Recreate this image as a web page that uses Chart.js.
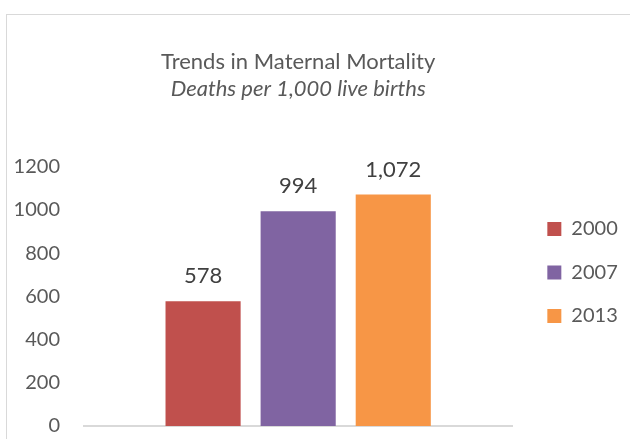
<!DOCTYPE html>
<html>
<head>
<meta charset="utf-8">
<script src="https://cdn.jsdelivr.net/npm/chart.js@4"></script>
<style>
  body { margin: 0; background: #fff; }
  #frame { position: absolute; left: 6px; top: 14px; width: 700px; height: 500px; border: 1px solid #d9d9d9; }
  #wrap { position: absolute; left: 0; top: 0; width: 630px; height: 439px; }
</style>
</head>
<body>
<div id="frame"></div>
<div id="wrap"><canvas id="chart"></canvas></div>
<script>
// values
const years = ["2000", "2007", "2013"];
const deaths = [578, 994, 1072];
const colors = ["#c0504d", "#8064a2", "#f79646"];
const yTicks = [0, 200, 400, 600, 800, 1000, 1200];

const grey = "#595959";
const fontName = "Lato, 'Open Sans', sans-serif";

// draws the value above each bar
const valueLabels = {
    id: "valueLabels",
    afterDatasetsDraw(chart) {
        const ctx = chart.ctx;
        ctx.save();
        ctx.font = "22px " + fontName;
        ctx.fillStyle = "#404040";
        ctx.textAlign = "center";
        ctx.textBaseline = "middle";
        chart.data.datasets.forEach((ds, i) => {
            const bar = chart.getDatasetMeta(i).data[0];
            ctx.fillText(ds.data[0].toLocaleString("en-US"), bar.x, bar.y - 25);
        });
        ctx.restore();
    },
};

const canvas = document.getElementById("chart");

new Chart(canvas, {
    type: "bar",
    data: {
        labels: [""],
        datasets: years.map((y, i) => ({
            label: y,
            data: [deaths[i]],
            backgroundColor: colors[i],
            categoryPercentage: 0.666,
            barPercentage: 0.79,
        })),
    },
    options: {
        responsive: true,
        maintainAspectRatio: false,
        animation: false,
        layout: { padding: { left: 13, right: 4, top: 0, bottom: 13 } },
        plugins: {
            title: {
                display: true,
                text: "Trends in Maternal Mortality",
                color: grey,
                font: { family: fontName, size: 22, weight: "normal" },
                fullSize: false,
                padding: { top: 49, bottom: 0 },
            },
            subtitle: {
                display: true,
                text: "Deaths per 1,000 live births",
                color: grey,
                font: { family: fontName, size: 22, style: "italic", weight: "normal" },
                fullSize: false,
                padding: { top: 0, bottom: 65 },
            },
            legend: {
                position: "right",
                title: { display: true, text: " ", padding: { top: 48, bottom: 47 }, font: { size: 20 } },
                labels: {
                    boxWidth: 14,
                    boxHeight: 14,
                    padding: 23.5,
                    color: grey,
                    font: { family: fontName, size: 20 },
                },
            },
            tooltip: { enabled: false },
        },
        scales: {
            x: {
                grid: { display: false, drawTicks: false },
                ticks: { display: false },
                border: { color: "#d9d9d9", width: 2 },
                afterFit: (scale) => { scale.height = 0; },
            },
            y: {
                min: 0,
                max: 1200,
                afterBuildTicks: (scale) => { scale.ticks = yTicks.map((v) => ({ value: v })); },
                afterFit: (scale) => {
                    scale.width = 71;
                    scale.paddingTop = 0;
                    scale.paddingBottom = 12;
                },
                grid: { display: false, drawTicks: false },
                border: { display: false },
                ticks: {
                    padding: 24,
                    color: grey,
                    font: { family: fontName, size: 20 },
                    callback: (v) => String(v),
                },
            },
            gap: {
                position: "right",
                grid: { display: false },
                border: { display: false },
                ticks: { display: false },
                afterFit: (scale) => { scale.width = 11.5; },
            },
        },
    },
    plugins: [valueLabels],
});
</script>
</body>
</html>
